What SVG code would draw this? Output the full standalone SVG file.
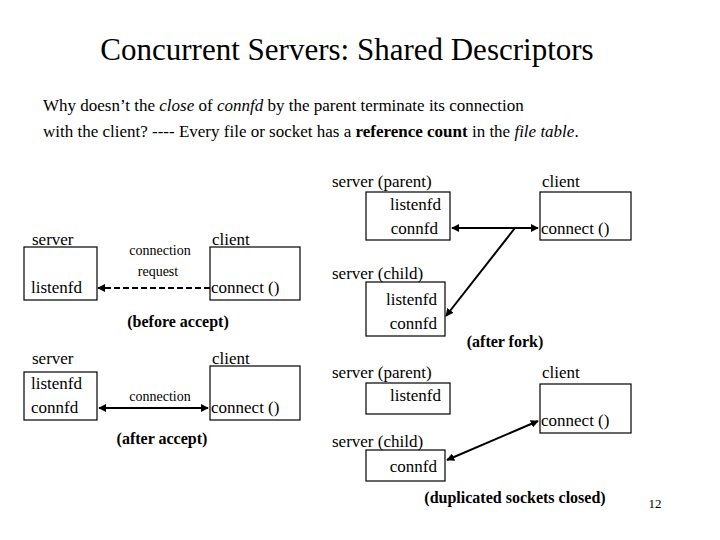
<svg xmlns="http://www.w3.org/2000/svg" width="720" height="540" viewBox="0 0 720 540" font-family="Liberation Serif, Times New Roman, DejaVu Serif, serif">
<style>
text{font-family:'Liberation Serif','Times New Roman','DejaVu Serif',serif;fill:#000}
.t{font-size:17px}
.b{font-weight:bold;font-size:16px}
.s{font-size:14px}
.box{fill:#fff;stroke:#000;stroke-width:1.2}
.c{stroke:#000;stroke-width:2;fill:none}
</style>
<defs>
<marker id="a" viewBox="0 0 10 10" refX="9" refY="5" markerWidth="4" markerHeight="4" orient="auto-start-reverse"><path d="M0,0L10,5L0,10z" fill="#000"/></marker>
</defs>
<rect width="720" height="540" fill="#fff"/>
<text x="347" y="60" font-size="31" text-anchor="middle">Concurrent Servers: Shared Descriptors</text>
<text x="43" y="111" class="t">Why doesn’t the <tspan font-style="italic">close</tspan> of <tspan font-style="italic">connfd</tspan>  by the parent terminate its connection</text>
<text x="43" y="137" class="t">with the client?  ---- Every file or socket has a <tspan font-weight="bold">reference count</tspan> in the <tspan font-style="italic">file table</tspan>.</text>

<g id="n1"><rect class="box" x="24" y="247" width="73" height="53"/><text x="32" y="245" class="t">server</text><text x="31" y="293" class="t">listenfd</text></g>
<g id="n2"><rect class="box" x="210" y="247" width="90" height="53"/><text x="212" y="245" class="t">client</text><text x="211" y="293" class="t">connect ()</text></g>
<g id="n3"><rect class="box" x="24" y="372" width="73" height="48"/><text x="32" y="364" class="t">server</text><text x="31" y="389" class="t">listenfd</text><text x="31" y="413" class="t">connfd</text></g>
<g id="n4"><rect class="box" x="210" y="366" width="90" height="54"/><text x="212" y="364" class="t">client</text><text x="211" y="413" class="t">connect ()</text></g>
<g id="n5"><rect class="box" x="366" y="192" width="84" height="48"/><text x="332" y="187" class="t">server (parent)</text><text x="441" y="210" class="t" text-anchor="end">listenfd</text><text x="438" y="234" class="t" text-anchor="end">connfd</text></g>
<g id="n6"><rect class="box" x="540" y="192" width="91" height="48"/><text x="542" y="187" class="t">client</text><text x="541" y="234" class="t">connect ()</text></g>
<g id="n7"><rect class="box" x="366" y="282" width="79" height="54"/><text x="332" y="279" class="t">server (child)</text><text x="437" y="305" class="t" text-anchor="end">listenfd</text><text x="437" y="329" class="t" text-anchor="end">connfd</text></g>
<g id="n8"><rect class="box" x="366" y="383" width="84" height="31"/><text x="332" y="378" class="t">server (parent)</text><text x="441" y="401" class="t" text-anchor="end">listenfd</text></g>
<g id="n9"><rect class="box" x="540" y="384" width="91" height="49"/><text x="542" y="378" class="t">client</text><text x="541" y="426" class="t">connect ()</text></g>
<g id="n10"><rect class="box" x="366" y="450" width="79" height="31"/><text x="332" y="447" class="t">server (child)</text><text x="437" y="472" class="t" text-anchor="end">connfd</text></g>

<g id="connectors">
<line class="c" x1="210" y1="288" x2="98" y2="288" stroke-dasharray="6,3" marker-end="url(#a)"/>
<line class="c" x1="99" y1="408" x2="208" y2="408" marker-start="url(#a)" marker-end="url(#a)"/>
<line class="c" x1="452" y1="228" x2="538" y2="228" marker-start="url(#a)" marker-end="url(#a)"/>
<line class="c" x1="515" y1="228" x2="446" y2="316" marker-end="url(#a)"/>
<line class="c" x1="447" y1="460" x2="538" y2="421" marker-start="url(#a)" marker-end="url(#a)"/>
</g>
<text x="160" y="255" class="s" text-anchor="middle">connection</text>
<text x="158" y="276" class="s" text-anchor="middle">request</text>
<text x="160" y="401" class="s" text-anchor="middle">connection</text>
<text x="178" y="327" class="b" text-anchor="middle">(before accept)</text>
<text x="162" y="444" class="b" text-anchor="middle">(after accept)</text>
<text x="505" y="347" class="b" text-anchor="middle">(after fork)</text>
<text x="515" y="503" class="b" text-anchor="middle">(duplicated sockets closed)</text>
<text x="655" y="508" font-size="13" text-anchor="middle">12</text>
</svg>
